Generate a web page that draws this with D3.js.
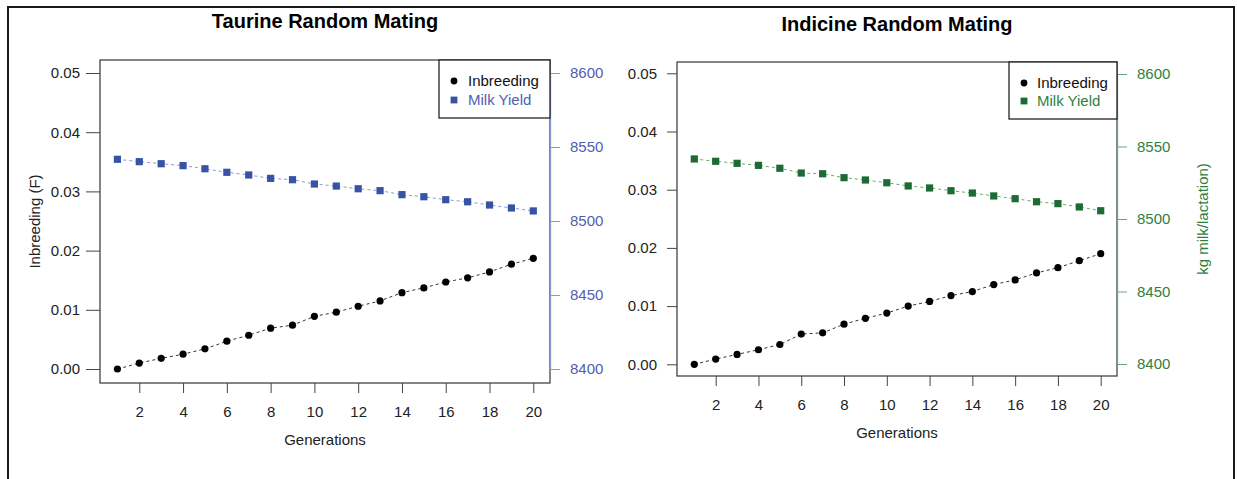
<!DOCTYPE html>
<html>
<head>
<meta charset="utf-8">
<script src="https://cdn.jsdelivr.net/npm/d3@7"></script>
<style>
  body { margin: 0; background: #fff; }
  svg { display: block; font-family: "Liberation Sans", Arial, sans-serif; }
</style>
</head>
<body>
<svg id="chart" width="1237" height="479"></svg>
<script>
// ---- data ----
const generations = [1, 2, 3, 4, 5, 6, 7, 8, 9, 10, 11, 12, 13, 14, 15, 16, 17, 18, 19, 20];
const generationTicks = [2, 4, 6, 8, 10, 12, 14, 16, 18, 20];
const inbreedingTicks = [0, 0.01, 0.02, 0.03, 0.04, 0.05];
const milkTicks = [8400, 8450, 8500, 8550, 8600];

const taurineInbreeding = [0.0000, 0.0010, 0.0018, 0.0025, 0.0034, 0.0047, 0.0057, 0.0069, 0.0074, 0.0089,
                           0.0096, 0.0106, 0.0115, 0.0129, 0.0137, 0.0147, 0.0154, 0.0164, 0.0177, 0.0187];
const taurineMilk = [8541.7, 8540.1, 8538.7, 8537.4, 8535.3, 8532.9, 8531.1, 8528.8, 8527.9, 8525.0,
                     8523.6, 8521.8, 8520.5, 8517.8, 8516.4, 8514.4, 8513.0, 8510.8, 8508.8, 8506.8];
const indicineInbreeding = [0.0000, 0.0009, 0.0017, 0.0025, 0.0034, 0.0052, 0.0054, 0.0069, 0.0079, 0.0088,
                            0.0100, 0.0108, 0.0118, 0.0125, 0.0137, 0.0145, 0.0157, 0.0166, 0.0178, 0.0190];
const indicineMilk = [8541.4, 8539.8, 8538.4, 8537.0, 8535.0, 8531.7, 8531.2, 8528.5, 8526.9, 8525.0,
                      8522.8, 8521.4, 8519.5, 8517.9, 8515.9, 8514.0, 8511.9, 8510.6, 8508.3, 8505.7];

const seriesNames = ["Inbreeding", "Milk Yield"];

// ---- layout / style for the two panels ----
const panels = [
  {
    title: "Taurine Random Mating", titleY: 28,
    inbreeding: taurineInbreeding, milk: taurineMilk,
    box: { x0: 100, x1: 550, y0: 60, y1: 383 },
    xRange: [117.4, 533.3], yRange: [369, 73], mRange: [369, 73],
    leftTick: 14, leftPad: 6,
    markColor: "#3953a4", textColor: "#5060b0", axisColor: "#8a98d4",
    legend: { x0: 439, y0: 60, x1: 550, y1: 118, mx: 454, tx: 468, rows: [81, 100] },
    leftLabel: "Inbreeding (F)", leftLabelX: 35,
    rightLabel: null,
    xLabelY: 412, xTitleY: 440
  },
  {
    title: "Indicine Random Mating", titleY: 31,
    inbreeding: indicineInbreeding, milk: indicineMilk,
    box: { x0: 677, x1: 1117, y0: 62, y1: 376 },
    xRange: [694.3, 1100.7], yRange: [364.3, 73.3], mRange: [364, 74],
    leftTick: 10, leftPad: 10,
    markColor: "#1d6b34", textColor: "#2f7f40", axisColor: "#6aa67a",
    legend: { x0: 1009, y0: 62, x1: 1117, y1: 119, mx: 1024, tx: 1037, rows: [83, 101] },
    leftLabel: null,
    rightLabel: "kg milk/lactation)", rightLabelX: 1203,
    xLabelY: 405, xTitleY: 433
  }
];

const svg = d3.select("#chart");
const FONT = 15;

// outer frame
svg.append("path")
  .attr("d", "M8,479 L8,7 L1234,7 L1234,479")
  .attr("fill", "none").attr("stroke", "#1a1a1a").attr("stroke-width", 2);

function styleAxis(g, lineColor, textColor) {
  g.selectAll("line").attr("stroke", lineColor);
  g.selectAll("path.domain").attr("stroke", lineColor);
  g.selectAll("text").attr("fill", textColor)
    .attr("font-size", FONT).attr("font-family", "Liberation Sans, Arial, sans-serif");
}

panels.forEach(p => {
  const x = d3.scaleLinear().domain([1, 20]).range(p.xRange);
  const y = d3.scaleLinear().domain([0, 0.05]).range(p.yRange);
  const m = d3.scaleLinear().domain([8400, 8600]).range(p.mRange);
  const g = svg.append("g");

  // title
  g.append("text")
    .attr("x", (p.box.x0 + p.box.x1) / 2).attr("y", p.titleY)
    .attr("text-anchor", "middle").attr("font-weight", "bold")
    .attr("font-size", 20).attr("fill", "#000")
    .text(p.title);

  // plot box
  g.append("rect")
    .attr("x", p.box.x0).attr("y", p.box.y0)
    .attr("width", p.box.x1 - p.box.x0).attr("height", p.box.y1 - p.box.y0)
    .attr("fill", "none").attr("stroke", "#444").attr("stroke-width", 1.3);

  // bottom axis
  const xa = g.append("g").attr("transform", `translate(0,${p.box.y1})`)
    .call(d3.axisBottom(x).tickValues(generationTicks).tickSize(10).tickSizeOuter(0)
      .tickPadding(p.xLabelY - p.box.y1 - 10 - 5.3).tickFormat(d3.format("d")));
  xa.select("path.domain").remove();
  styleAxis(xa, "#444", "#222");

  // left axis
  const ya = g.append("g").attr("transform", `translate(${p.box.x0},0)`)
    .call(d3.axisLeft(y).tickValues(inbreedingTicks).tickSize(p.leftTick).tickSizeOuter(0)
      .tickPadding(p.leftPad).tickFormat(d3.format(".2f")));
  ya.select("path.domain").remove();
  styleAxis(ya, "#444", "#222");

  // right axis (milk yield)
  const ma = g.append("g").attr("transform", `translate(${p.box.x1},0)`)
    .call(d3.axisRight(m).tickValues(milkTicks).tickSize(10).tickSizeOuter(0)
      .tickPadding(10).tickFormat(d3.format("d")));
  styleAxis(ma, p.axisColor, p.textColor);
  ma.select("path.domain").attr("stroke-width", 1.3);

  // axis titles
  g.append("text")
    .attr("x", (p.box.x0 + p.box.x1) / 2).attr("y", p.xTitleY + 5)
    .attr("text-anchor", "middle").attr("font-size", FONT).attr("fill", "#222")
    .text("Generations");
  if (p.leftLabel) {
    g.append("text")
      .attr("transform", `translate(${p.leftLabelX},${(p.box.y0 + p.box.y1) / 2}) rotate(-90)`)
      .attr("text-anchor", "middle").attr("dy", "0.35em")
      .attr("font-size", FONT).attr("fill", "#222")
      .text(p.leftLabel);
  }
  if (p.rightLabel) {
    g.append("text")
      .attr("transform", `translate(${p.rightLabelX},${(p.box.y0 + p.box.y1) / 2}) rotate(-90)`)
      .attr("text-anchor", "middle").attr("dy", "0.35em")
      .attr("font-size", FONT).attr("fill", p.textColor)
      .text(p.rightLabel);
  }

  // milk yield series: dashed line + squares
  const milkLine = d3.line().x((d, i) => x(generations[i])).y(d => m(d));
  g.append("path").datum(p.milk)
    .attr("d", milkLine).attr("fill", "none")
    .attr("stroke", p.axisColor).attr("stroke-width", 1).attr("stroke-dasharray", "3,3");
  g.selectAll(null).data(p.milk).enter().append("rect")
    .attr("x", (d, i) => x(generations[i]) - 3.6).attr("y", d => m(d) - 3.6)
    .attr("width", 7.2).attr("height", 7.2).attr("fill", p.markColor);

  // inbreeding series: dashed line + dots
  const inbLine = d3.line().x((d, i) => x(generations[i])).y(d => y(d));
  g.append("path").datum(p.inbreeding)
    .attr("d", inbLine).attr("fill", "none")
    .attr("stroke", "#333").attr("stroke-width", 1).attr("stroke-dasharray", "3,3");
  g.selectAll(null).data(p.inbreeding).enter().append("circle")
    .attr("cx", (d, i) => x(generations[i])).attr("cy", d => y(d))
    .attr("r", 3.6).attr("fill", "#000");

  // legend
  const L = p.legend;
  g.append("rect")
    .attr("x", L.x0).attr("y", L.y0).attr("width", L.x1 - L.x0).attr("height", L.y1 - L.y0)
    .attr("fill", "#fff").attr("stroke", "#222").attr("stroke-width", 1.3);
  g.append("circle").attr("cx", L.mx).attr("cy", L.rows[0]).attr("r", 3.4).attr("fill", "#000");
  g.append("rect").attr("x", L.mx - 3.4).attr("y", L.rows[1] - 3.4)
    .attr("width", 6.8).attr("height", 6.8).attr("fill", p.markColor);
  g.append("text").attr("x", L.tx).attr("y", L.rows[0]).attr("dy", "0.35em")
    .attr("font-size", FONT).attr("fill", "#111").text(seriesNames[0]);
  g.append("text").attr("x", L.tx).attr("y", L.rows[1]).attr("dy", "0.35em")
    .attr("font-size", FONT).attr("fill", p.textColor).text(seriesNames[1]);
});
</script>
</body>
</html>
